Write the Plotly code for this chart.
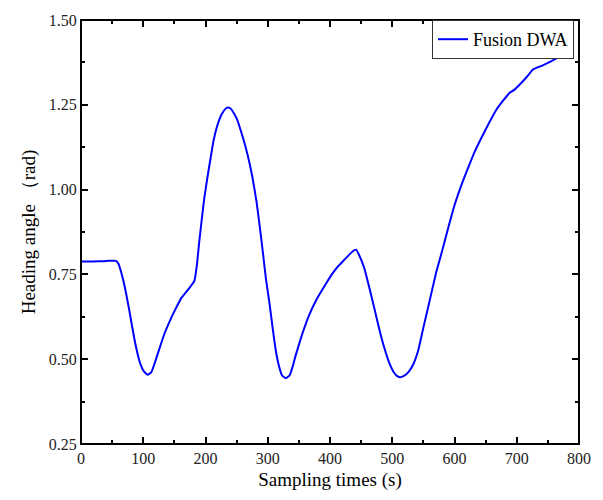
import plotly.graph_objects as go

# Sampling times and heading angle (rad)
t = [0, 20, 37, 45, 56, 60, 64, 68, 72, 77, 82, 87, 95, 101, 107, 113, 118, 124, 134, 145, 153, 161, 172, 182,
     186, 190, 194, 198, 203, 208, 213, 219, 226, 232, 236, 241, 250, 259, 268, 275, 282, 287, 292, 297,
     303, 308, 313, 318, 323, 329, 335, 340, 345, 355, 366, 379, 392, 403, 413, 424, 433, 438, 442, 446,
     455, 463, 471, 479, 487, 495, 503, 508, 513, 518, 526, 534, 542, 550, 560, 571, 580, 587, 594, 600,
     613, 622, 632, 648, 666, 678, 689, 696, 706, 716, 726, 740, 755, 768]
heading = [0.788, 0.788, 0.789, 0.790, 0.790, 0.782, 0.760, 0.732, 0.698, 0.650, 0.598, 0.548, 0.488, 0.464,
           0.454, 0.462, 0.486, 0.520, 0.575, 0.622, 0.652, 0.680, 0.705, 0.730,
           0.775, 0.847, 0.912, 0.974, 1.035, 1.091, 1.145, 1.189, 1.222, 1.238, 1.242, 1.238, 1.210,
           1.160, 1.100, 1.040, 0.964, 0.893, 0.818, 0.738, 0.662, 0.590, 0.525, 0.480, 0.452, 0.444,
           0.452, 0.478, 0.512, 0.572, 0.628, 0.678, 0.718, 0.750, 0.774, 0.795, 0.812, 0.820, 0.823,
           0.810, 0.769, 0.712, 0.652, 0.590, 0.535, 0.490, 0.460, 0.450, 0.447, 0.450, 0.462, 0.486,
           0.528, 0.593, 0.672, 0.759, 0.818, 0.867, 0.915, 0.954, 1.023, 1.065, 1.110, 1.170, 1.232,
           1.262, 1.286, 1.294, 1.312, 1.332, 1.354, 1.365, 1.378, 1.391]

fig = go.Figure()
fig.add_trace(go.Scatter(x=t, y=heading, mode="lines", name="Fusion DWA",
                         line=dict(color="#0000FF", width=2, shape="spline", smoothing=0.4)))

fig.update_layout(
    width=603, height=500,
    margin=dict(l=81, r=15, t=17, b=56),
    plot_bgcolor="white", paper_bgcolor="white",
    font=dict(family="Liberation Serif", size=16, color="#222"),
    showlegend=True,
    legend=dict(x=0.99, y=1.0, xanchor="right", yanchor="top",
                bgcolor="white", bordercolor="#333", borderwidth=1,
                font=dict(family="Liberation Serif", size=18, color="black"),
                itemwidth=30, tracegroupgap=0),
    xaxis=dict(range=[0, 800], tickmode="linear", tick0=0, dtick=100,
               showline=True, linecolor="black", ticks="inside", ticklen=7, tickwidth=1.5,
               tickcolor="black", mirror="allticks", showgrid=False,
               minor=dict(ticks="inside", ticklen=4, tickcolor="black", dtick=50),
               title=dict(text="Sampling times (s)", font=dict(family="Liberation Serif", size=19, color="black"),
                          standoff=6)),
    yaxis=dict(range=[0.25, 1.5], tickmode="linear", tick0=0.25, dtick=0.25, tickformat=".2f",
               showline=True, linecolor="black", ticks="inside", ticklen=7, tickwidth=1.5,
               tickcolor="black", mirror="allticks", showgrid=False,
               minor=dict(ticks="inside", ticklen=4, tickcolor="black", dtick=0.125),
               title=dict(text="Heading angle （rad)", font=dict(family="Liberation Serif", size=19, color="black"),
                          standoff=8)),
    shapes=[dict(type="rect", xref="paper", yref="paper", x0=0, y0=0, x1=1, y1=1,
                 line=dict(color="black", width=2), fillcolor="rgba(0,0,0,0)", layer="above")],
)

fig.write_html("out.html")
